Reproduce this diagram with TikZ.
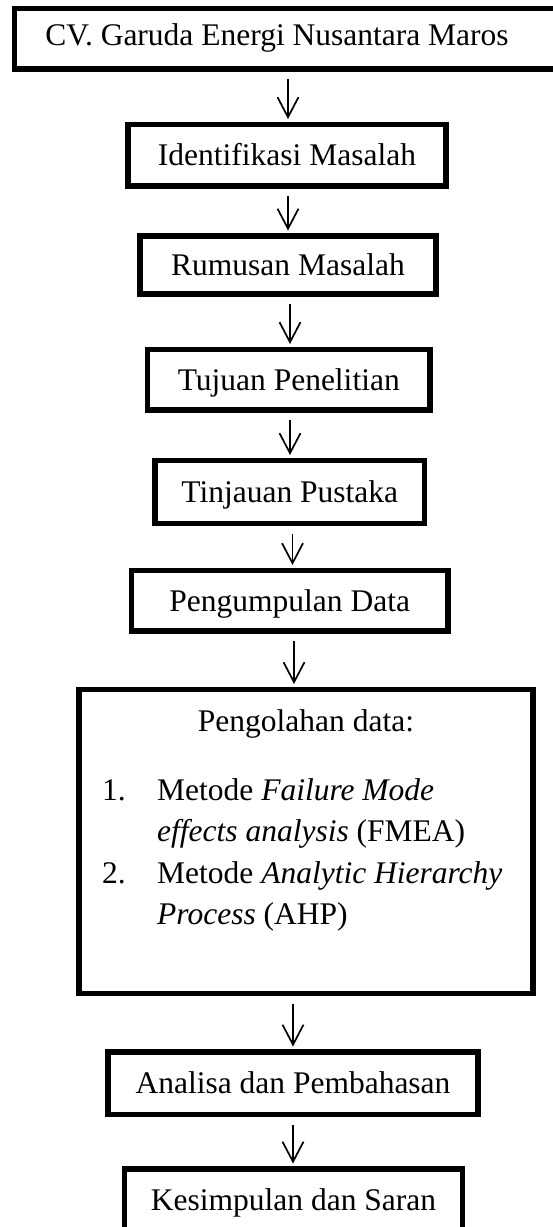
\documentclass[tikz,border=0pt]{standalone}
\usepackage{fontspec}
\setmainfont{Liberation Serif}
\usetikzlibrary{arrows.meta}
\newcommand\fsz{\fontsize{31.5}{41.5}\selectfont}
\begin{document}
\begin{tikzpicture}[x=1pt,y=-1pt,
  box/.style={draw, line width=5.5pt, inner sep=0pt, text height=21.4pt, text depth=0pt, font=\fsz},
  plain/.style={inner sep=0pt, font=\fsz},
  arr/.style={line width=1.7pt, -{Straight Barb[length=20pt,width=21pt]}, shorten <=7.5pt, shorten >=2.75pt}]
\useasboundingbox (0,0) rectangle (552,1227);
% boxes
\node[box, minimum width=550.5pt, minimum height=60.5pt, text depth=8.9pt] (b1) at (289.75,38.75) {\hspace*{-25.5pt}CV. Garuda Energi Nusantara Maros};
\node[box, minimum width=318pt, minimum height=61.5pt] (b2) at (287,155.25) {Identifikasi Masalah};
\node[box, minimum width=296pt, minimum height=58pt] (b3) at (288,265) {Rumusan Masalah};
\node[box, minimum width=282.5pt, minimum height=60.5pt] (b4) at (288.75,379.75) {Tujuan Penelitian};
\node[box, minimum width=269.5pt, minimum height=63pt] (b5) at (289.75,492) {Tinjauan Pustaka};
\node[box, minimum width=316.5pt, minimum height=60.5pt] (b6) at (289.75,600.75) {Pengumpulan Data};
\node[box, minimum width=454pt, minimum height=304pt] (b7) at (306,841.5) {};
\node[plain, anchor=base] (t7a) at (306,731.7) {Pengolahan data:};
\node[plain, anchor=base west] (t7b) at (102,800) {\begin{tabular}[t]{@{}p{55pt}@{}l@{}}1.&Metode \textit{Failure Mode}\\ &\textit{effects analysis} (FMEA)\\ 2.&Metode \textit{Analytic Hierarchy}\\ &\textit{Process} (AHP)\end{tabular}};
\node[box, minimum width=370pt, minimum height=62.5pt] (b8) at (293,1083.25) {Analisa dan Pembahasan};
\node[box, minimum width=338pt, minimum height=62pt] (b9) at (293.5,1200) {Kesimpulan dan Saran};
% arrow columns
\coordinate (x1) at (288,0);
\coordinate (x2) at (288,0);
\coordinate (x3) at (290,0);
\coordinate (x4) at (290,0);
\coordinate (x5) at (292.5,0);
\coordinate (x6) at (294,0);
\coordinate (x7) at (293,0);
\coordinate (x8) at (293,0);
% connectors
\draw[arr] (b1.south -| x1) -- (b2.north -| x1);
\draw[arr] (b2.south -| x2) -- (b3.north -| x2);
\draw[arr] (b3.south -| x3) -- (b4.north -| x3);
\draw[arr] (b4.south -| x4) -- (b5.north -| x4);
\draw[arr] (b5.south -| x5) -- (b6.north -| x5);
\draw[arr] (b6.south -| x6) -- (b7.north -| x6);
\draw[arr] (b7.south -| x7) -- (b8.north -| x7);
\draw[arr] (b8.south -| x8) -- (b9.north -| x8);
\end{tikzpicture}
\end{document}
